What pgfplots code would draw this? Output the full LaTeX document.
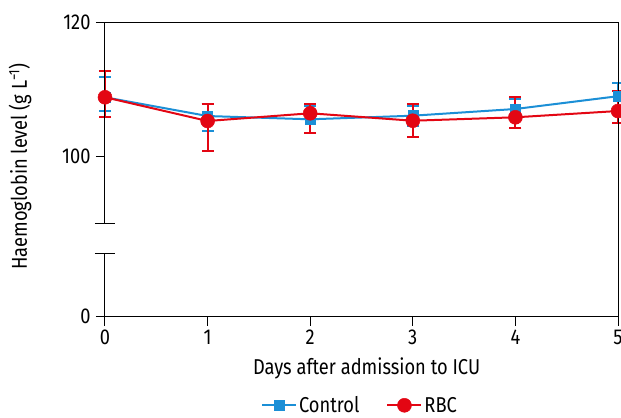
\documentclass[border=0pt]{standalone}
\usepackage{fontspec}
\setmainfont{Fira Sans}[FakeStretch=0.85]
\usepackage{pgfplots}
\pgfplotsset{compat=1.18}
\usepackage{pgfplotstable}
\definecolor{ctrl}{RGB}{27,143,214}
\definecolor{rbc}{RGB}{227,6,19}

\pgfplotstableread{
x y ep em
0 108.84 3.07 2.00
1 106.04 1.80 2.19
2 105.55 2.00 2.00
3 106.09 1.50 1.50
4 107.09 1.50 1.50
5 109.00 1.90 1.90
}\ctrldata
\pgfplotstableread{
x y ep em
0 108.84 3.92 2.90
1 105.30 2.54 4.43
2 106.45 1.39 2.99
3 105.34 2.50 2.47
4 105.85 2.99 1.64
5 106.79 3.00 1.83
}\rbcdata

\begin{document}
\begin{tikzpicture}
\begin{axis}[name=ax, width=513pt, height=294pt, scale only axis,
 xmin=0, xmax=5, ymin=76.12, ymax=120,
 xtick={0,1,2,3,4,5}, ytick={76.12,100,120}, yticklabels={0,100,120},
 tick pos=left, tick align=outside, major tick length=9pt,
 tick style={black, line width=1pt},
 axis line style={draw=none},
 clip=false,
 font=\fontsize{21.5}{24}\selectfont,
 /pgf/number format/assume math mode=true,
 xticklabel style={yshift=-1pt},
 yticklabel style={xshift=-2pt},
 xlabel={Days after admission to ICU},
 ylabel={Haemoglobin level (g L\textsuperscript{−1})},
 xlabel style={at={(axis description cs:0.51,-0.178)}, anchor=center},
 ylabel style={at={(axis description cs:-0.1657,0.51)}, anchor=center},
 legend columns=2,
 legend style={draw=none, fill=none, at={(0.497,-0.302)}, anchor=center,
   font=\fontsize{21.5}{24}\selectfont,
   /tikz/every even column/.append style={column sep=25pt}},
 legend image code/.code={\draw[#1, mark repeat=2, mark phase=2] plot coordinates {(0pt,0pt) (17pt,0pt) (34pt,0pt)};},
]
\addplot[ctrl, line width=2pt, mark=square*, mark size=5pt, mark options={solid, fill=ctrl, line width=0.5pt},
 error bars/.cd, y dir=both, y explicit,
 error bar style={line width=2pt, ctrl},
 error mark options={rotate=90, mark size=6pt, line width=2pt, ctrl}]
 table[x=x, y=y, y error plus=ep, y error minus=em]{\ctrldata};
\addlegendentry{Control}
\addplot[rbc, line width=2pt, mark=*, mark size=7pt, mark options={solid, fill=rbc, line width=0.5pt},
 error bars/.cd, y dir=both, y explicit,
 error bar style={line width=2pt, rbc},
 error mark options={rotate=90, mark size=6pt, line width=2pt, rbc}]
 table[x=x, y=y, y error plus=ep, y error minus=em]{\rbcdata};
\addlegendentry{RBC}
\draw[line width=1pt] (rel axis cs:0,0) -- (rel axis cs:1,0);
\draw[line width=1pt] (rel axis cs:0,1) -- (rel axis cs:1,1);
\draw[line width=1pt] (rel axis cs:1,0) -- (rel axis cs:1,1);
\draw[line width=1pt] (axis cs:0,76.12) -- (axis cs:0,85.55);
\draw[line width=1pt] (axis cs:0,90.03) -- (axis cs:0,120);
\draw[line width=1pt] ([xshift=-10pt]axis cs:0,85.55) -- ([xshift=10pt]axis cs:0,85.55);
\draw[line width=1pt] ([xshift=-10pt]axis cs:0,90.03) -- ([xshift=10pt]axis cs:0,90.03);
\end{axis}
\pgfresetboundingbox
\path[use as bounding box] ([xshift=-105pt,yshift=-100.5pt]ax.south west) rectangle ([xshift=3pt,yshift=22.5pt]ax.north east);
\end{tikzpicture}
\end{document}
